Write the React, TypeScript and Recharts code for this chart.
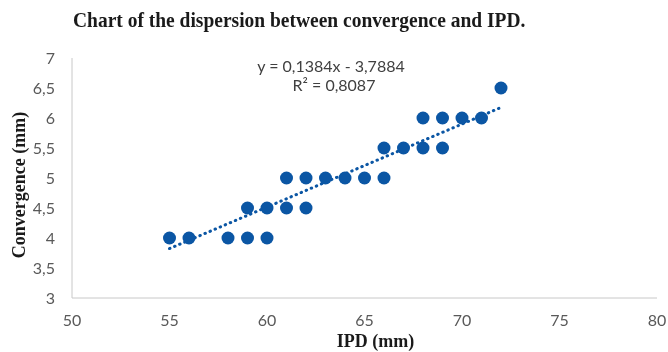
import {
  ReferenceLine,
  Scatter,
  ScatterChart,
  XAxis,
  YAxis,
} from "recharts";

import { ReactElement } from "react";

const ipd = [
  55, 56, 58, 59, 60, 59, 60, 61, 62, 61, 62, 63, 64, 65, 66, 66, 67, 68, 69,
  68, 69, 70, 71, 72,
];
const convergence = [
  4, 4, 4, 4, 4, 4.5, 4.5, 4.5, 4.5, 5, 5, 5, 5, 5, 5, 5.5, 5.5, 5.5, 5.5, 6,
  6, 6, 6, 6.5,
];

const xTicks = [50, 55, 60, 65, 70, 75, 80];
const yTicks = [3, 3.5, 4, 4.5, 5, 5.5, 6, 6.5, 7];

// trend line end points, y = 0,1384x - 3,7884
const trendX = [55, 72];
const trendY = [3.824, 6.176];

const title = "Chart of the dispersion between convergence and IPD.";
const equation = "y = 0,1384x - 3,7884";
const rSquared = "R² = 0,8087";

const blue = "#0B56A4";
const serif = "'Liberation Serif', 'Times New Roman', serif";
const sans = "Lato, 'Noto Sans', sans-serif";

const points = ipd.map((x, i) => ({ x, y: convergence[i] }));

const fmt = (v: number) => String(v).replace(".", ",");

export default function App(): ReactElement {
  return (
    <div style={{ position: "fixed", left: 0, top: 0, width: 668, height: 352 }}>
      <ScatterChart
        width={668}
        height={352}
        margin={{ top: 58, right: 11, bottom: 0, left: 0 }}
      >
        <XAxis
          type="number"
          dataKey="x"
          domain={[50, 80]}
          ticks={xTicks}
          height={54}
          tickLine={false}
          tickSize={15}
          tickMargin={2}
          axisLine={{ stroke: "#c8c8c8" }}
          tick={{ fill: "#595959", fontSize: 16, fontFamily: sans }}
          label={{
            value: "IPD (mm)",
            position: "insideBottom",
            offset: 5,
            dx: 11,
            fill: "#1a1a1a",
            fontSize: 18,
            fontWeight: "bold",
            fontFamily: serif,
          }}
        />
        <YAxis
          type="number"
          dataKey="y"
          domain={[3, 7]}
          ticks={yTicks}
          width={72}
          tickLine={false}
          tickSize={15}
          tickMargin={2}
          tickFormatter={fmt}
          axisLine={{ stroke: "#c8c8c8" }}
          tick={{ fill: "#595959", fontSize: 16, fontFamily: sans }}
          label={{
            content: () => (
              <text
                x={19}
                y={185}
                transform="rotate(-90 19 185)"
                textAnchor="middle"
                dominantBaseline="central"
                fill="#1a1a1a"
                fontSize={18}
                fontWeight="bold"
                fontFamily={serif}
              >
                Convergence (mm)
              </text>
            ),
          }}
        />
        <ReferenceLine
          segment={[
            { x: trendX[0], y: trendY[0] },
            { x: trendX[1], y: trendY[1] },
          ]}
          stroke={blue}
          strokeWidth={3}
          strokeLinecap="round"
          strokeDasharray="0.5 5"
        />
        <Scatter
          data={points}
          fill={blue}
          isAnimationActive={false}
          shape={(p: any) => <circle cx={p.cx} cy={p.cy} r={6.5} fill={blue} />}
        />
      </ScatterChart>
      <svg
        width={668}
        height={352}
        style={{ position: "absolute", left: 0, top: 0, pointerEvents: "none" }}
      >
        <text
          transform="translate(73 27) scale(1 1.12)"
          fontFamily={serif}
          fontWeight="bold"
          fontSize={19.5}
          fill="#1a1a1a"
        >
          {title}
        </text>
        <text
          x={331}
          y={72}
          textAnchor="middle"
          fontFamily={sans}
          fontSize={16}
          fill="#404040"
        >
          {equation}
        </text>
        <text
          x={334}
          y={91}
          textAnchor="middle"
          fontFamily={sans}
          fontSize={16}
          fill="#404040"
        >
          {rSquared}
        </text>
      </svg>
    </div>
  );
}
